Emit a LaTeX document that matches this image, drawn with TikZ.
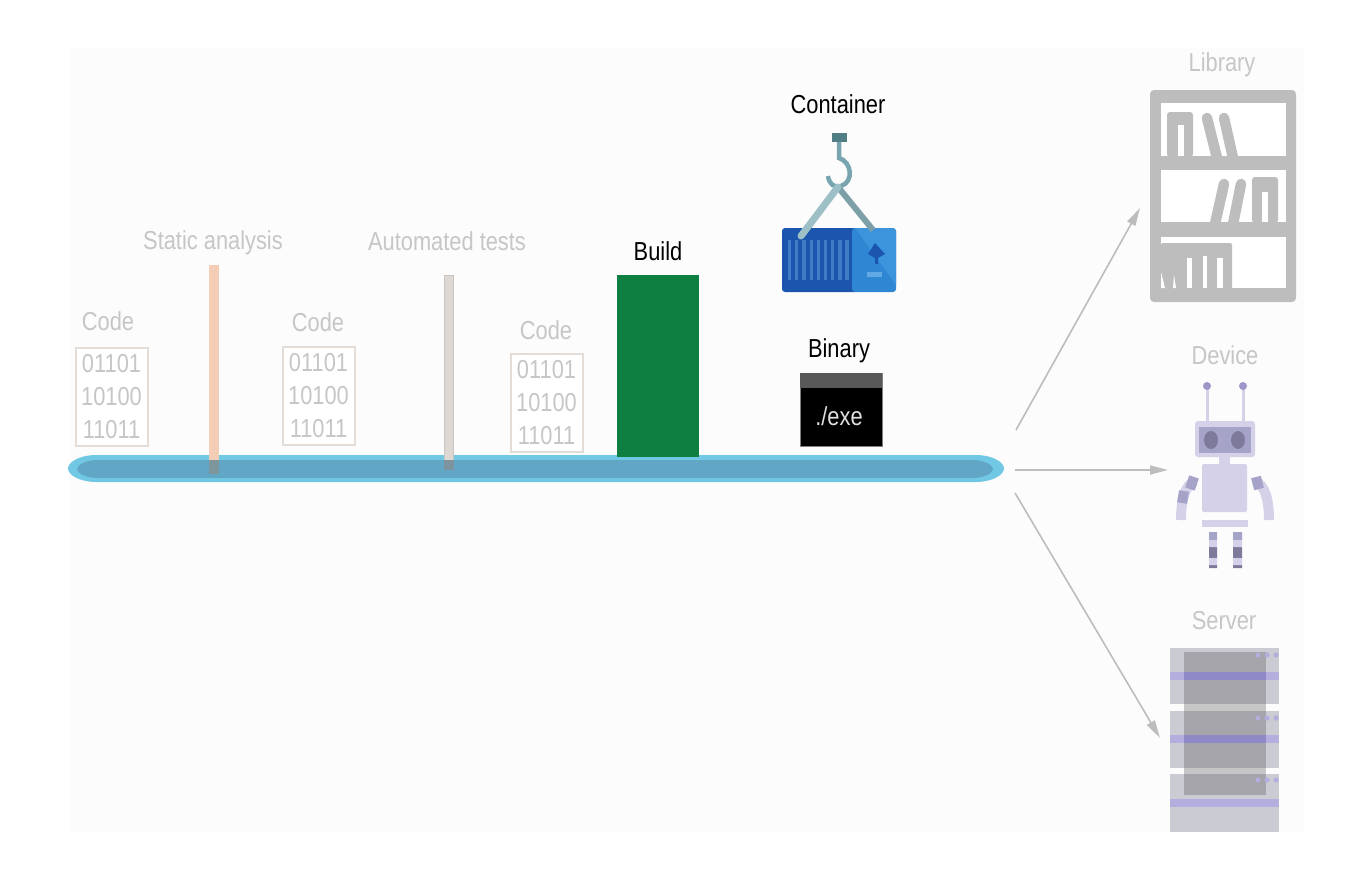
\documentclass[tikz,border=0pt]{standalone}
\usepackage{fontspec}
\usepackage{tikz}
\usetikzlibrary{arrows.meta}
\newfontfamily\labelfont[FakeStretch=0.84]{Liberation Sans}
\definecolor{fadetext}{RGB}{198,198,198}
\definecolor{fadebox}{RGB}{228,220,215}
\definecolor{shelfgray}{RGB}{189,189,189}
\definecolor{robotlight}{RGB}{212,209,232}
\definecolor{robotmid}{RGB}{166,163,200}
\definecolor{robotdark}{RGB}{125,122,156}
\definecolor{robotball}{RGB}{157,151,201}
\definecolor{serverbody}{RGB}{203,203,211}
\definecolor{serverband}{RGB}{179,174,222}
\definecolor{serverbanddark}{RGB}{142,138,200}
\definecolor{pipeouter}{RGB}{112,200,228}
\definecolor{pipeinner}{RGB}{97,166,196}
\definecolor{gateorange}{RGB}{243,205,181}
\definecolor{gateorangedark}{RGB}{124,150,155}
\definecolor{gategray}{RGB}{222,216,212}
\definecolor{gategrayline}{RGB}{200,196,192}
\definecolor{gategraydark}{RGB}{125,148,158}
\definecolor{buildgreen}{RGB}{14,127,65}
\definecolor{boxdark}{RGB}{27,85,173}
\definecolor{boxmid}{RGB}{47,134,210}
\definecolor{boxlight}{RGB}{60,148,220}
\definecolor{boxrib}{RGB}{62,124,198}
\definecolor{boxtag}{RGB}{96,169,228}
\definecolor{hookcap}{RGB}{79,127,133}
\definecolor{hookline}{RGB}{120,165,175}
\definecolor{slingdark}{RGB}{125,160,168}
\definecolor{slinglight}{RGB}{157,191,198}
\tikzset{
    fadelabel/.style={
        font=\labelfont\fontsize{26}{30}\selectfont,
        text=fadetext,
        inner sep=0pt
    },
    darklabel/.style={
        font=\labelfont\fontsize{26}{30}\selectfont,
        text=black,
        inner sep=0pt
    },
    codebox/.style={
        draw=fadebox,
        line width=2pt,
        fill=white,
        minimum width=72pt,
        minimum height=98pt,
        inner sep=0pt,
        align=center,
        text=fadetext,
        font=\labelfont\fontsize{26}{33}\selectfont
    },
    % arrows leaving the pipe
    grayarrow/.style={
        line width=1.6pt,
        shelfgray,
        -{Triangle[length=18pt, width=9pt]}
    },
    book/.style={
        line width=10.5pt,
        shelfgray,
        line cap=round
    },
    robotarm/.style={
        line width=10pt,
        robotlight
    }
}
\begin{document}
\begin{tikzpicture}[x=1pt,y=-1pt]
   \useasboundingbox (0,0) rectangle (1360,875);
   \fill[white] (0,0) rectangle (1360,875);
   \fill[black!1] (70,48) rectangle (1304,832);
   \path
    (1016,430) coordinate (a1)
    (1140,208) coordinate (b1)
    (1015,470) coordinate (a2)
    (1168,470) coordinate (b2)
    (1015,493) coordinate (a3)
    (1160,738) coordinate (b3)
    ;

   % pipe
   \fill[pipeouter] (96,455) -- (976,455) .. controls (992,455) and (1004,462) .. (1004,468.5) .. controls (1004,475) and (992,482) .. (976,482) -- (96,482) .. controls (80,482) and (68,475) .. (68,468.5) .. controls (68,462) and (80,455) .. (96,455) -- cycle;
   \fill[pipeinner] (98,460) -- (972,460) .. controls (984,460) and (993,465) .. (993,469) .. controls (993,473) and (984,478) .. (972,478) -- (98,478) .. controls (86,478) and (77,473) .. (77,469) .. controls (77,465) and (86,460) .. (98,460) -- cycle;

   % gates
   \fill[gateorange] (209,265) rectangle (219,460);
   \fill[gateorangedark] (209,460) rectangle (219,474);
   \draw[fill=gategray, draw=gategrayline] (444.5,275) rectangle (453.5,460);
   \fill[gategraydark] (444,460) rectangle (454,470);

   % code
   \node[fadelabel] (code1) at (108,321) {Code};
   \node[codebox] (bits1) at (111.5,396.5) {01101\\10100\\11011};
   \node[fadelabel] (code2) at (318,322) {Code};
   \node[codebox] (bits2) at (318.5,395.5) {01101\\10100\\11011};
   \node[fadelabel] (code3) at (546,330) {Code};
   \node[codebox] (bits3) at (546.5,403) {01101\\10100\\11011};
   \node[fadelabel] (static) at (213,243) {Static analysis};
   \node[fadelabel] (tests) at (447,241) {Automated tests};

   % build
   \node[darklabel] (buildlabel) at (658,251) {Build};
   \node[fill=buildgreen, minimum width=82pt, minimum height=182pt, inner sep=0pt] (build) at (658,366) {};

   % binary
   \node[darklabel] (binarylabel) at (839,351) {Binary};
   \node[fill=black, draw=gray, line width=1pt, minimum width=82pt, minimum height=73pt, inner sep=0pt] (binary) at (841,409.5) {};
   \fill[black!65] (800,373) rectangle (882,388);
   \node[font=\labelfont\fontsize{26}{30}\selectfont, text=white!88!black, inner sep=0pt] (exe) at (839,416) {./exe};

   % container
   \node[darklabel] (containerlabel) at (838,104) {Container};
   \fill[rounded corners=3pt, boxdark] (782,228) rectangle (858,292);
   \fill[rounded corners=3pt, boxmid] (852,228) rectangle (896,292);
   \fill[boxlight] (855,228) -- (893,228) -- (896,231) -- (896,285) -- cycle;
   \draw[line width=3.2pt, boxrib]
     (789.5,240) -- (789.5,280) (796.7,240) -- (796.7,280) (803.9,240) -- (803.9,280)
     (811.1,240) -- (811.1,280) (818.3,240) -- (818.3,280) (825.5,240) -- (825.5,280)
     (832.7,240) -- (832.7,280) (839.9,240) -- (839.9,280) (847,240) -- (847,280);
   \fill[boxdark] (875,243) -- (885,254) -- (878,258) -- (878,264) -- (875,264) -- (875,258) -- (868,254) -- cycle;
   \fill[boxtag] (867,272) rectangle (882,277);
   \fill[hookcap] (832,133) rectangle (847,142);
   \draw[line width=4.5pt, hookline] (839,142) -- (839,158) .. controls (852,162) and (854,182) .. (841,186) .. controls (834,188) and (829,184) .. (828,176);
   \draw[line width=6pt, slingdark] (838,187) -- (873,230);
   \draw[line width=7pt, line cap=round, slinglight] (838,187) -- (801,236);

   % library
   \node[fadelabel] (library) at (1222,65) {Library};
   \fill[shelfgray, rounded corners=4pt] (1150,90) rectangle (1296,302);
   \fill[white] (1161,103) rectangle (1286,156);
   \fill[white] (1161,170) rectangle (1286,222);
   \fill[white] (1161,237) rectangle (1286,288);
   \fill[shelfgray, rounded corners=3pt] (1167,157) -- (1167,112) -- (1193,112) -- (1193,157) -- cycle;
   \fill[white] (1178,125) rectangle (1184,156);
   \draw[book] (1207,118) -- (1217,158);
   \draw[book] (1224,118) -- (1233,158);
   \draw[book] (1224,184) -- (1215,224);
   \draw[book] (1241,184) -- (1233,224);
   \fill[shelfgray, rounded corners=3pt] (1252,223) -- (1252,177) -- (1278,177) -- (1278,223) -- cycle;
   \fill[white] (1262,192) rectangle (1268,222);
   \fill[shelfgray, rounded corners=2pt] (1161,243) -- (1232,243) -- (1232,289) -- (1161,289) -- cycle;
   \fill[white] (1187,258) rectangle (1192,288);
   \fill[white] (1203,256) rectangle (1207,288);
   \fill[white] (1217,258) rectangle (1223,288);
   \fill[white] (1161,272) -- (1165,288) -- (1161,288) -- cycle;
   \fill[white] (1174,275) -- (1176,288) -- (1173,288) -- cycle;

   % device
   \node[fadelabel] (device) at (1225,355) {Device};
   \draw[line width=3pt, robotlight] (1207,387) -- (1207,422) (1243,387) -- (1243,422);
   \fill[robotball] (1207,386) circle (4pt) (1243,386) circle (4pt);
   \fill[robotlight, rounded corners=3pt] (1195,421) rectangle (1255,457);
   \fill[robotmid] (1199,427) rectangle (1251,453);
   \fill[robotdark] (1211,440) ellipse (7pt and 9pt) (1238,440) ellipse (7pt and 9pt);
   \fill[robotlight] (1219,457) rectangle (1230,467);
   \fill[robotlight, rounded corners=2pt] (1202,464) rectangle (1247,512);
   \fill[robotlight] (1202,520) rectangle (1248,527);
   \draw[robotarm] (1195,481) .. controls (1184,485) and (1181,503) .. (1181,520);
   \draw[robotarm, robotmid] (1194,477) -- (1190,489);
   \draw[robotarm, robotmid] (1184,491) -- (1182,503);
   \draw[robotarm] (1255,481) .. controls (1266,485) and (1269,503) .. (1269,520);
   \draw[robotarm, robotmid] (1256,477) -- (1259,489);
   \fill[robotmid] (1209,532) rectangle (1217,540) (1233,532) rectangle (1242,540);
   \fill[robotdark] (1209,547) rectangle (1217,558) (1233,547) rectangle (1242,558);
   \fill[robotdark] (1209,565) rectangle (1217,568) (1233,565) rectangle (1242,568);
   \fill[robotlight] (1209,540) rectangle (1217,547) (1233,540) rectangle (1242,547);
   \fill[robotlight] (1209,558) rectangle (1217,565) (1233,558) rectangle (1242,565);

   % server
   \node[fadelabel] (server) at (1224,621) {Server};
   \fill[serverbody] (1170,648) rectangle (1279,704);
   \fill[serverbody] (1170,711) rectangle (1279,768);
   \fill[serverbody] (1170,774) rectangle (1279,832);
   \fill[serverband] (1170,672) rectangle (1279,680);
   \fill[serverband] (1170,735) rectangle (1279,743);
   \fill[serverband] (1170,799) rectangle (1279,807);
   \fill[black!70, opacity=0.3] (1184,652) rectangle (1266,795);
   \fill[serverbanddark] (1184,672) rectangle (1266,680);
   \fill[serverbanddark] (1184,735) rectangle (1266,743);
   \fill[serverband] (1258,655) circle (2.6pt) (1267,655) circle (2.6pt) (1276,655) circle (2.6pt);
   \fill[serverband] (1258,718) circle (2.6pt) (1267,718) circle (2.6pt) (1276,718) circle (2.6pt);
   \fill[serverband] (1258,780) circle (2.6pt) (1267,780) circle (2.6pt) (1276,780) circle (2.6pt);

   % outputs
   \draw[grayarrow] (a1) -- (b1);
   \draw[grayarrow] (a2) -- (b2);
   \draw[grayarrow] (a3) -- (b3);
\end{tikzpicture}
\end{document}
